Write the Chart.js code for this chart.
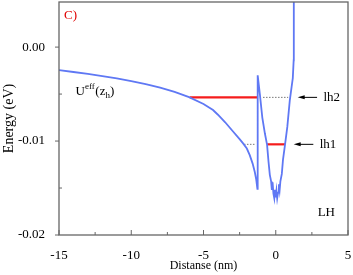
<!DOCTYPE html>
<html>
<head>
<meta charset="utf-8">
<script src="https://cdn.jsdelivr.net/npm/chart.js@4"></script>
<style>
    html, body { margin: 0; padding: 0; background: #fff; }
    #wrap { width: 353px; height: 275px; }
</style>
</head>
<body>
<div id="wrap"><canvas id="energyChart" width="353" height="275"></canvas></div>
<script>
// Potential profile U_eff(z_h)
const distX = [-15, -14, -13, -12, -11, -10, -9, -8, -7, -6, -5, -4.34, -4, -3.5, -3, -2.5, -2.26, -2, -1.8, -1.6, -1.45, -1.35, -1.27,
    -1.25, -1.1, -0.93, -0.75, -0.6, -0.5, -0.41, -0.32, -0.27, -0.22, -0.16, -0.1, -0.05, 0, 0.05, 0.1, 0.16, 0.22, 0.27, 0.32, 0.42, 0.5, 0.64, 0.8, 0.97, 1.1, 1.18, 1.24, 1.25];
const energyU = [-0.00245, -0.00265, -0.00286, -0.00309, -0.00334, -0.00362, -0.00394, -0.00431, -0.00476, -0.00532, -0.00605, -0.0067, -0.0072, -0.008, -0.0089, -0.0098, -0.01025, -0.0108, -0.0115, -0.0124, -0.0133, -0.0141, -0.0151,
    -0.003, -0.005, -0.0075, -0.0092, -0.0104, -0.0122, -0.0136, -0.0143, -0.0152, -0.0144, -0.0156, -0.0161, -0.0152, -0.016, -0.0153, -0.0161, -0.0155, -0.0146, -0.0152, -0.0143, -0.0135, -0.012, -0.0104, -0.0085, -0.0057, -0.0042, -0.0033, -0.0014, 0.008];

// Hole levels: red segments inside the well, grey dotted continuations
const levelNames = ['lh2', 'lh1'];
const levelE = [-0.00535, -0.01035];
const levelX = [[-5.95, -1.24], [-0.6, 0.64]];
const dottedX = [[-0.88, 0.86], [-2.2, -1.38]];
const arrowX = [[2.86, 1.52], [2.6, 1.24]];   // tail, tip
const labelX = [3.3, 3.04];

const xTicks = [-15, -10, -5, 0, 5];
const xMinor = [-12.5, -7.5, -2.5, 2.5];
const yTicks = [-0.02, -0.01, 0.0];
const yMinor = [-0.015, -0.005];

const SERIF = '"Liberation Serif", "Times New Roman", serif';

const toPts = (xs, y) => xs.map(x => ({ x: x, y: y }));

const datasets = [{
    data: distX.map((x, i) => ({ x: x, y: energyU[i] })),
    borderColor: '#5f78f4',
    borderWidth: 1.8,
    pointRadius: 0,
    showLine: true,
    tension: 0
}];
levelE.forEach((e, i) => {
    datasets.push({
        data: toPts(levelX[i], e),
        borderColor: '#f51c1c',
        borderWidth: 2.2,
        pointRadius: 0,
        showLine: true
    });
    datasets.push({
        data: toPts(dottedX[i], e),
        borderColor: '#777',
        borderWidth: 1,
        borderDash: [1.5, 1.5],
        pointRadius: 0,
        showLine: true
    });
});

// frame, inward/outward ticks, arrows and text labels
const decorPlugin = {
    id: 'decor',
    afterDraw(chart) {
        const { ctx, chartArea: a, scales: { x, y } } = chart;
        ctx.save();
        ctx.strokeStyle = '#666';
        ctx.lineWidth = 1.3;
        ctx.strokeRect(a.left, a.top, a.right - a.left, a.bottom - a.top);

        ctx.lineWidth = 1;
        ctx.beginPath();
        yTicks.forEach(v => { const py = y.getPixelForValue(v); ctx.moveTo(a.left - 4, py); ctx.lineTo(a.left, py); });
        yMinor.forEach(v => { const py = y.getPixelForValue(v); ctx.moveTo(a.left, py); ctx.lineTo(a.left + 3, py); });
        xTicks.forEach(v => { const px = x.getPixelForValue(v); ctx.moveTo(px, a.bottom); ctx.lineTo(px, a.bottom - 5); });
        xMinor.forEach(v => { const px = x.getPixelForValue(v); ctx.moveTo(px, a.bottom); ctx.lineTo(px, a.bottom - 3); });
        ctx.stroke();

        // arrows pointing at the levels
        ctx.strokeStyle = '#000';
        ctx.fillStyle = '#000';
        levelE.forEach((e, i) => {
            const py = y.getPixelForValue(e);
            const x0 = x.getPixelForValue(arrowX[i][0]);
            const x1 = x.getPixelForValue(arrowX[i][1]);
            ctx.beginPath();
            ctx.moveTo(x0, py);
            ctx.lineTo(x1 + 4, py);
            ctx.stroke();
            ctx.beginPath();
            ctx.moveTo(x1, py);
            ctx.lineTo(x1 + 7, py - 2);
            ctx.lineTo(x1 + 7, py + 2);
            ctx.closePath();
            ctx.fill();

            ctx.font = '13px ' + SERIF;
            ctx.textBaseline = 'middle';
            ctx.textAlign = 'left';
            ctx.fillText(levelNames[i], x.getPixelForValue(labelX[i]), py);
        });

        // panel label
        ctx.fillStyle = '#e00000';
        ctx.font = '13px ' + SERIF;
        ctx.textBaseline = 'middle';
        ctx.fillText('C)', x.getPixelForValue(-14.65), y.getPixelForValue(0.0034));

        ctx.fillStyle = '#000';
        ctx.fillText('LH', x.getPixelForValue(2.9), y.getPixelForValue(-0.01766));

        // U^eff(z_h)
        let px = x.getPixelForValue(-13.85);
        const base = y.getPixelForValue(-0.00505);
        ctx.textBaseline = 'alphabetic';
        ctx.font = '13px ' + SERIF;
        ctx.fillText('U', px, base);
        px += ctx.measureText('U').width;
        ctx.font = '9px ' + SERIF;
        ctx.fillText('eff', px, base - 6);
        px += ctx.measureText('eff').width + 0.5;
        ctx.font = '13px ' + SERIF;
        ctx.fillText('(z', px, base);
        px += ctx.measureText('(z').width;
        ctx.font = '9px ' + SERIF;
        ctx.fillText('h', px, base + 3);
        px += ctx.measureText('h').width;
        ctx.font = '13px ' + SERIF;
        ctx.fillText(')', px, base);
        ctx.restore();
    }
};

const ctx = document.getElementById('energyChart').getContext('2d');
const energyChart = new Chart(ctx, {
    type: 'scatter',
    data: { datasets: datasets },
    options: {
        responsive: false,
        animation: false,
        devicePixelRatio: 1,
        layout: { padding: { left: 0, right: 5, top: 2, bottom: 0 } },
        plugins: { legend: { display: false }, tooltip: { enabled: false } },
        scales: {
            x: {
                type: 'linear',
                min: -15,
                max: 5,
                afterBuildTicks: s => { s.ticks = xTicks.map(v => ({ value: v })); },
                afterFit: s => { s.height = 40; s.paddingLeft = 0; s.paddingRight = 0; },
                grid: { display: false },
                border: { display: false },
                ticks: {
                    color: '#000',
                    padding: 5,
                    maxRotation: 0,
                    font: { family: SERIF, size: 13 },
                    callback: v => String(v)
                },
                title: {
                    display: true,
                    text: 'Distanse (nm)',
                    color: '#000',
                    font: { family: SERIF, size: 12 },
                    padding: { top: 0, bottom: 1.5 }
                }
            },
            y: {
                type: 'linear',
                min: -0.02,
                max: 0.0048,
                afterBuildTicks: s => { s.ticks = yTicks.map(v => ({ value: v })); },
                afterFit: s => { s.width = 59; s.paddingTop = 0; s.paddingBottom = 0; },
                grid: { display: false },
                border: { display: false },
                ticks: {
                    color: '#000',
                    padding: 6,
                    font: { family: SERIF, size: 13 },
                    callback: v => v.toFixed(2)
                },
                title: {
                    display: true,
                    text: 'Energy (eV)',
                    color: '#000',
                    font: { family: SERIF, size: 14 },
                    padding: { top: 1, bottom: 0 }
                }
            }
        }
    },
    plugins: [decorPlugin]
});
</script>
</body>
</html>
